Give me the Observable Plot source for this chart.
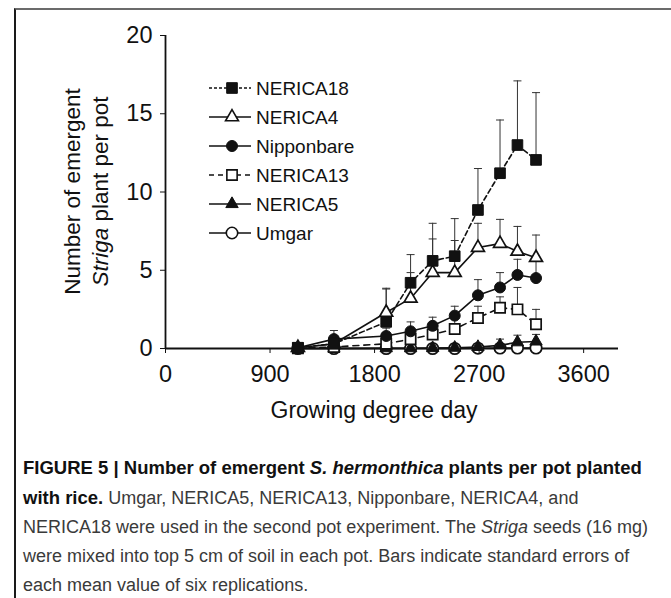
<!DOCTYPE html>
<html><head><meta charset="utf-8">
<script src="https://cdn.jsdelivr.net/npm/d3@7"></script>
<script src="https://cdn.jsdelivr.net/npm/@observablehq/plot@0.6"></script>
<style>
body{margin:0;background:#fff}
#wrap{position:relative;width:671px;height:598px;overflow:hidden;background:#fff}
#frame{position:absolute;left:14px;top:8px;width:700px;height:700px;border-top:2px solid #6b6b6b;border-left:2px solid #1a1a1a}
#chart{position:absolute;left:0;top:0}
#legend{position:absolute;left:0;top:0}
#caption{position:absolute;left:23px;top:453px;font-family:"Liberation Sans Narrow","Arial Narrow","Liberation Sans",Arial,sans-serif;font-size:18px;line-height:29px;color:#3a3a3a;white-space:nowrap}
#caption b{color:#111;font-size:18.5px}
</style></head><body>
<div id="wrap">
  <div id="frame"></div>
  <div id="chart"></div>
  <div id="legend"></div>
  <div id="caption"><b>FIGURE 5 | Number of emergent <i>S. hermonthica</i> plants per pot planted</b><br><b>with rice.</b> Umgar, NERICA5, NERICA13, Nipponbare, NERICA4, and<br>NERICA18 were used in the second pot experiment. The <i>Striga</i> seeds (16 mg)<br>were mixed into top 5 cm of soil in each pot. Bars indicate standard errors of<br>each mean value of six replications.</div>
</div>
<script>
// ---- data ----
const gdd = [1140, 1450, 1900, 2110, 2300, 2490, 2690, 2880, 3030, 3190];
const seriesNames = ["NERICA18", "NERICA4", "Nipponbare", "NERICA13", "NERICA5", "Umgar"];
const nerica18Mean   = [0.05, 0.3, 1.7, 4.2, 5.6, 5.9, 8.85, 11.2, 13.0, 12.05];
const nerica18Se     = [0, 0.3, 2.1, 1.8, 2.4, 2.4, 2.65, 3.4, 4.1, 4.3];
const nerica4Mean    = [0.05, 0.3, 2.3, 3.2, 4.85, 4.85, 6.45, 6.7, 6.2, 5.8];
const nerica4Se      = [0, 0.4, 1.55, 1.65, 2.15, 2.05, 1.55, 1.55, 1.6, 1.45];
const nipponbareMean = [0.05, 0.6, 0.8, 1.1, 1.45, 2.1, 3.4, 3.9, 4.7, 4.5];
const nipponbareSe   = [0, 0.55, 0.5, 0.6, 0.55, 0.6, 1.0, 0.95, 1.0, 1.1];
const nerica13Mean   = [0.02, 0.1, 0.3, 0.6, 0.9, 1.25, 1.95, 2.6, 2.5, 1.55];
const nerica13Se     = [0, 0.1, 0.2, 0.3, 0.4, 0.65, 0.75, 0.7, 1.4, 0.95];
const nerica5Mean    = [0, 0, 0.02, 0.02, 0.03, 0.05, 0.1, 0.2, 0.4, 0.45];
const nerica5Se      = [0, 0, 0, 0, 0, 0.05, 0.2, 0.4, 0.45, 0.45];
const umgarMean      = [0, 0, 0, 0, 0, 0, 0.02, 0.03, 0.03, 0.03];
const umgarSe        = [0, 0, 0, 0, 0, 0, 0, 0, 0, 0];
const xTicks = [0, 900, 1800, 2700, 3600];
const yTicks = [0, 5, 10, 15, 20];

const means = [nerica18Mean, nerica4Mean, nipponbareMean, nerica13Mean, nerica5Mean, umgarMean];
const ses = [nerica18Se, nerica4Se, nipponbareSe, nerica13Se, nerica5Se, umgarSe];

// ---- styles ----
const styles = {
  NERICA18:   {symbol: "square",   fill: "#111", r: 6.0, dash: "5,3", legendDash: "3,2"},
  NERICA4:    {symbol: "triangle", fill: "#fff", r: 4.8, dash: null,  legendDash: null},
  Nipponbare: {symbol: "circle",   fill: "#111", r: 5.5, dash: null,  legendDash: null},
  NERICA13:   {symbol: "square",   fill: "#fff", r: 5.8, dash: "6,5", legendDash: "5,4"},
  NERICA5:    {symbol: "triangle", fill: "#111", r: 4.6, dash: null,  legendDash: null},
  Umgar:      {symbol: "circle",   fill: "#fff", r: 5.7, dash: null,  legendDash: null}
};

const rows = [];
seriesNames.forEach((s, i) => gdd.forEach((g, j) => rows.push({series: s, gdd: g, mean: means[i][j], se: ses[i][j]})));

const capSymbol = {draw(ctx, size) { const w = Math.sqrt(size / Math.PI); ctx.moveTo(-w, 0); ctx.lineTo(w, 0); }};

const marks = [];
const errRows = rows.filter(d => d.se > 0);
marks.push(Plot.ruleX(errRows, {x: "gdd", y1: "mean", y2: d => d.mean + d.se, stroke: "#333", strokeWidth: 1}));
marks.push(Plot.dot(errRows, {x: "gdd", y: d => d.mean + d.se, symbol: capSymbol, r: 4, fill: "none", stroke: "#333", strokeWidth: 1}));
[...seriesNames].reverse().forEach(s => {
  const st = styles[s];
  marks.push(Plot.line(rows.filter(d => d.series === s), {x: "gdd", y: "mean", stroke: "#111", strokeWidth: 1.6, strokeDasharray: st.dash || undefined}));
});
marks.push(Plot.ruleY([0], {stroke: "#111", strokeWidth: 1.8}));
marks.push(Plot.ruleX([0], {stroke: "#111", strokeWidth: 1.8}));
[...seriesNames].reverse().forEach(s => {
  const st = styles[s];
  marks.push(Plot.dot(rows.filter(d => d.series === s), {x: "gdd", y: "mean", symbol: st.symbol, r: st.r, fill: st.fill, stroke: "#111", strokeWidth: st.fill === "#fff" ? 1.7 : 1}));
});
marks.push(Plot.axisX({ticks: xTicks, tickSize: 5, tickPadding: 12, label: null, fontSize: 23.5, tickFormat: d => String(d)}));
marks.push(Plot.axisY({ticks: yTicks, tickSize: 5, tickPadding: 8, label: null, fontSize: 23.5}));

const plot = Plot.plot({
  width: 671, height: 430,
  marginLeft: 165, marginRight: 53, marginTop: 35, marginBottom: 82,
  x: {domain: [0, 3900]},
  y: {domain: [0, 20]},
  style: {fontFamily: "'Liberation Sans', Arial, sans-serif", fontSize: "23px", color: "#111", background: "transparent"},
  marks
});
document.getElementById("chart").appendChild(plot);

const xs = plot.scale("x"), ys = plot.scale("y");
const svg = d3.select(plot);
svg.append("text").attr("x", xs.apply(1800)).attr("y", 418).attr("text-anchor", "middle")
  .attr("font-size", 23).attr("fill", "#111").text("Growing degree day");
const cy = ys.apply(10);
svg.append("text").attr("transform", `translate(80,${cy}) rotate(-90)`).attr("text-anchor", "middle")
  .attr("font-size", 22.5).attr("fill", "#111").text("Number of emergent");
const t2 = svg.append("text").attr("transform", `translate(108,${cy}) rotate(-90)`).attr("text-anchor", "middle")
  .attr("font-size", 22.5).attr("fill", "#111");
t2.append("tspan").attr("font-style", "italic").text("Striga");
t2.append("tspan").text(" plant per pot");

// ---- legend ----
const lg = d3.select("#legend").append("svg").attr("width", 671).attr("height", 430)
  .style("font-family", "'Liberation Sans', Arial, sans-serif");
seriesNames.forEach((s, i) => {
  const st = styles[s];
  const y = 88 + i * 29;
  lg.append("line").attr("x1", 209).attr("x2", 251).attr("y1", y).attr("y2", y)
    .attr("stroke", "#111").attr("stroke-width", 1.5).attr("stroke-dasharray", st.legendDash);
  const sym = {square: d3.symbolSquare, triangle: d3.symbolTriangle, circle: d3.symbolCircle}[st.symbol];
  lg.append("path").attr("d", d3.symbol(sym, Math.PI * st.r * st.r)()).attr("transform", `translate(232,${y})`)
    .attr("fill", st.fill).attr("stroke", "#111").attr("stroke-width", st.fill === "#fff" ? 1.6 : 1);
  lg.append("text").attr("x", 256).attr("y", y).attr("dy", "0.36em").attr("font-size", 19).attr("fill", "#111").text(s);
});
</script>
</body></html>
